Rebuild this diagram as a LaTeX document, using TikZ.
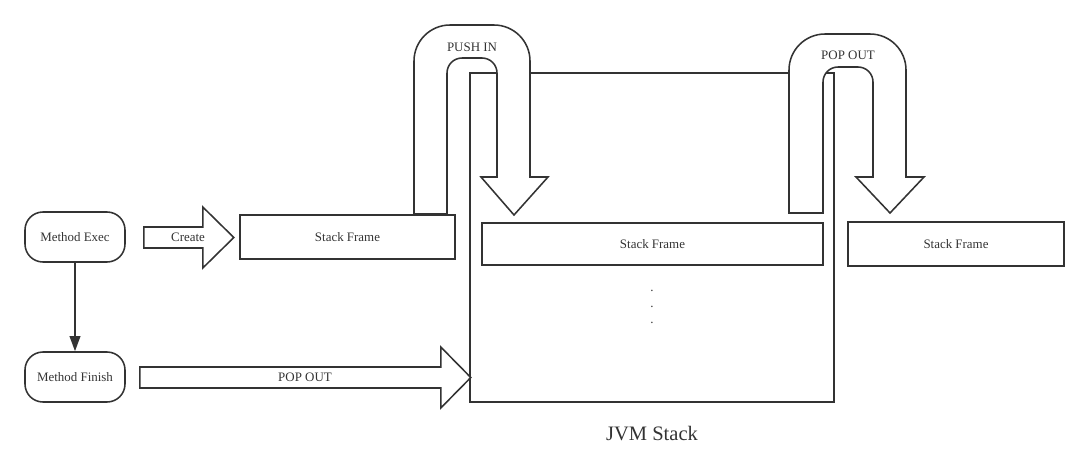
\documentclass[tikz,border=0pt]{standalone}
\usepackage{fontspec}
\setmainfont{Liberation Serif}
\usetikzlibrary{arrows.meta, positioning, calc}

\begin{document}
\begin{tikzpicture}[
      x=0.025cm, y=-0.025cm,
      color=black!80,
      line width=1.1pt,
      method/.style={
        rectangle,
        rounded corners=0.45cm,
        draw,
        minimum width=2.5cm,
        minimum height=1.25cm,
        font=\fontsize{9.2}{11}\selectfont
      },
      frame/.style={
        rectangle,
        draw,
        minimum height=1.1cm,
        font=\fontsize{9.2}{11}\selectfont
      },
      blockarrow/.style={
        draw,
        fill=white,
        line join=miter
      },
      arrowlabel/.style={
        inner sep=0pt,
        font=\fontsize{9.2}{11}\selectfont
      },
      arrow/.style={
        line width=1.1pt,
        -{Triangle[length=0.38cm, width=0.27cm]}
      }
    ]
    \useasboundingbox (0,0) rectangle (1089,474);

    % Method Nodes
    \node (methodExec) [method] at (75,237) {Method Exec};
    \node (methodFinish) [method] at (75,377) {Method Finish};

    % JVM Stack
    \node (jvmStack) [rectangle, draw, minimum width=9.1cm, minimum height=8.225cm] at (652,237.5) {};
    \node (jvmLabel) [font=\fontsize{14.6}{17}\selectfont, below=0.45cm of jvmStack] {JVM Stack};
    \node (dots) [align=center, inner sep=0pt, font=\fontsize{9.2}{11.3}\selectfont] at (652,307) {.\\.\\.};

    % Stack Frame Nodes
    \node (frameNew) [frame, minimum width=5.375cm] at (347.5,237) {Stack Frame};
    \node (frameTop) [frame, minimum width=8.525cm, minimum height=1.05cm] at (652.5,244) {Stack Frame};
    \node (frameOut) [frame, minimum width=5.4cm] at (956,244) {Stack Frame};

    % Arrow Method Exec to Method Finish
    \draw [arrow] (methodExec) -- (methodFinish);

    % Create arrow
    \draw [blockarrow] ($(methodExec.east)+(18,-10)$) -- ++(59,0) -- ++(0,-20) -- ++(31,30.5)
      -- ++(-31,30.5) -- ++(0,-20) -- ++(-59,0) -- cycle;
    \node (createLabel) [arrowlabel] at (188,237) {Create};

    % Pop out arrow (bottom)
    \draw [blockarrow] ($(methodFinish.east)+(14,-10)$) -- ++(301,0) -- ++(0,-20) -- ++(30,30.5)
      -- ++(-30,30.5) -- ++(0,-20) -- ++(-301,0) -- cycle;
    \node (popLabel) [arrowlabel] at (305,377) {POP OUT};

    % Push in arrow
    \draw [blockarrow] (414,214) -- (414,61) arc[start angle=180, end angle=270, radius=36]
      -- (494,25) arc[start angle=270, end angle=360, radius=36]
      -- (530,177) -- (548,177) -- (514,215) -- (481,177) -- (497,177) -- (497,73)
      arc[start angle=0, end angle=-90, radius=15] -- (462,58)
      arc[start angle=-90, end angle=-180, radius=15] -- (447,214) -- cycle;
    \node (pushLabel) [arrowlabel] at (472,47) {PUSH IN};

    % Pop out arrow (top)
    \draw [blockarrow] (789,213) -- (789,70) arc[start angle=180, end angle=270, radius=36]
      -- (870,34) arc[start angle=270, end angle=360, radius=36]
      -- (906,177) -- (924,177) -- (890,213) -- (856,177) -- (873,177) -- (873,82)
      arc[start angle=0, end angle=-90, radius=15] -- (838,67)
      arc[start angle=-90, end angle=-180, radius=15] -- (823,213) -- cycle;
    \node (popTopLabel) [arrowlabel] at (848,55) {POP OUT};

    \end{tikzpicture}
\end{document}
